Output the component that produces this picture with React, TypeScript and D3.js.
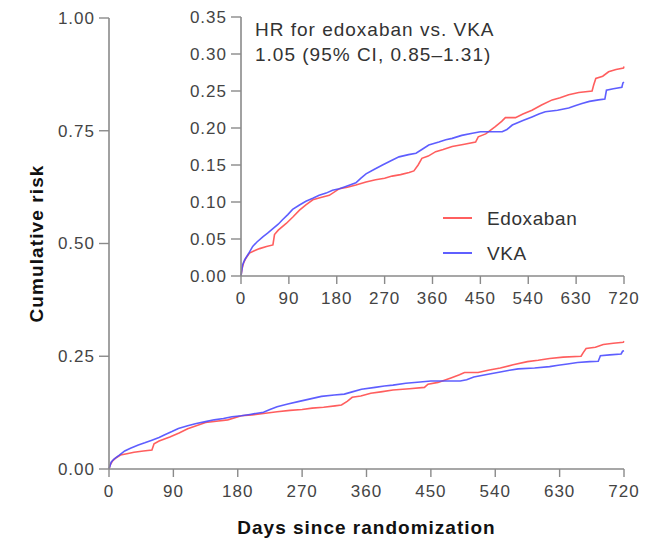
import React from 'react';
import * as d3 from 'd3';

// Kaplan-Meier style cumulative risk
const edoxabanDays = [0, 2, 5, 10, 16, 25, 35, 48, 60, 63, 70, 85, 98, 110, 122, 135, 150, 166, 185, 200, 216, 235, 253, 270, 284, 300, 316, 325, 333, 340, 352, 366, 380, 397, 420, 441, 446, 460, 478, 490, 497, 516, 530, 547, 565, 585, 600, 616, 635, 660, 663, 667, 680, 691, 705, 719, 720];
const edoxabanRisk = [0, 0.01, 0.018, 0.025, 0.031, 0.034, 0.037, 0.04, 0.042, 0.056, 0.062, 0.071, 0.08, 0.089, 0.096, 0.103, 0.106, 0.109, 0.118, 0.12, 0.123, 0.127, 0.13, 0.132, 0.135, 0.137, 0.14, 0.142, 0.15, 0.159, 0.162, 0.168, 0.171, 0.175, 0.178, 0.181, 0.188, 0.192, 0.202, 0.209, 0.214, 0.214, 0.219, 0.224, 0.231, 0.238, 0.241, 0.245, 0.248, 0.25, 0.258, 0.267, 0.27, 0.276, 0.279, 0.281, 0.283];

const vkaDays = [0, 3, 7, 14, 22, 30, 41, 50, 60, 70, 78, 88, 97, 110, 122, 135, 147, 160, 172, 185, 197, 216, 225, 235, 250, 266, 280, 297, 315, 329, 340, 353, 372, 385, 397, 415, 435, 450, 491, 500, 510, 530, 547, 560, 572, 595, 616, 628, 641, 655, 672, 684, 687, 700, 716, 718, 720];
const vkaRisk = [0, 0.015, 0.022, 0.03, 0.04, 0.046, 0.053, 0.058, 0.064, 0.07, 0.076, 0.083, 0.09, 0.096, 0.101, 0.105, 0.109, 0.112, 0.116, 0.118, 0.121, 0.126, 0.132, 0.138, 0.144, 0.15, 0.155, 0.161, 0.164, 0.166, 0.171, 0.177, 0.181, 0.184, 0.186, 0.19, 0.193, 0.195, 0.195, 0.198, 0.204, 0.21, 0.215, 0.219, 0.222, 0.224, 0.227, 0.23, 0.233, 0.236, 0.238, 0.239, 0.251, 0.253, 0.255, 0.261, 0.262];

const dayTicks = [0, 90, 180, 270, 360, 450, 540, 630, 720];
const mainRiskTicks = [0, 0.25, 0.5, 0.75, 1];
const insetRiskTicks = [0, 0.05, 0.1, 0.15, 0.2, 0.25, 0.3, 0.35];

const seriesNames = ['Edoxaban', 'VKA'];
const seriesColors = ['#ff4d4d', '#4d4dff'];
const hrLines = ['HR for edoxaban vs. VKA', '1.05 (95% CI, 0.85\u20131.31)'];

const W = 669;
const H = 538;
const FONT = '"Liberation Sans", Arial, sans-serif';
const AXIS = '#8a8a8a';
const LABEL = '#444';

type Pt = { day: number; risk: number };
const toPts = (days: number[], risk: number[]): Pt[] => days.map((d, i) => ({ day: d, risk: risk[i] }));
const series = [toPts(edoxabanDays, edoxabanRisk), toPts(vkaDays, vkaRisk)];

interface PanelProps {
  x: d3.ScaleLinear<number, number>;
  y: d3.ScaleLinear<number, number>;
  yTicks: number[];
}

const Panel: React.FC<PanelProps> = ({ x, y, yTicks }) => {
  const line = d3
    .line<Pt>()
    .x(d => x(d.day))
    .y(d => y(d.risk));
  const [x0, x1] = x.range();
  const [y0, y1] = y.range();
  return (
    <g>
      {series.map((s, i) => (
        <path key={i} d={line(s) ?? ''} fill="none" stroke={seriesColors[i]} strokeWidth={1.6} strokeOpacity={0.9} />
      ))}
      {/* y axis */}
      <line x1={x0} x2={x0} y1={y0} y2={y1} stroke={AXIS} strokeWidth={1.6} />
      {yTicks.map(t => (
        <g key={t} transform={`translate(${x0},${y(t)})`}>
          <line x1={-10} x2={0} stroke={AXIS} strokeWidth={1.4} />
          <text x={-14} dy="0.35em" textAnchor="end" fontSize={17} fill={LABEL} letterSpacing={1}>
            {t.toFixed(2)}
          </text>
        </g>
      ))}
      {/* x axis */}
      <line x1={x0} x2={x1} y1={y0} y2={y0} stroke={AXIS} strokeWidth={1.6} />
      {dayTicks.map(t => (
        <g key={t} transform={`translate(${x(t)},${y0})`}>
          <line y1={0} y2={8} stroke={AXIS} strokeWidth={1.4} />
          <text y={28} textAnchor="middle" fontSize={17} fill={LABEL} letterSpacing={1}>
            {t}
          </text>
        </g>
      ))}
    </g>
  );
};

export default function App() {
  const xMain = d3.scaleLinear().domain([0, 720]).range([109, 624]);
  const yMain = d3.scaleLinear().domain([0, 1]).range([469, 18]);
  const xInset = d3.scaleLinear().domain([0, 720]).range([241, 624]);
  const yInset = d3.scaleLinear().domain([0, 0.35]).range([276, 17]);

  return (
    <svg width={W} height={H} style={{ position: 'absolute', left: 0, top: 0, background: '#fff' }} fontFamily={FONT}>
      <Panel x={xMain} y={yMain} yTicks={mainRiskTicks} />
      <Panel x={xInset} y={yInset} yTicks={insetRiskTicks} />

      {hrLines.map((t, i) => (
        <text key={i} x={255} y={36 + i * 25} fontSize={19} fill="#333" letterSpacing={1}>
          {t}
        </text>
      ))}

      {seriesNames.map((n, i) => (
        <g key={n} transform={`translate(443,${218 + i * 35})`}>
          <line x1={0} x2={29} stroke={seriesColors[i]} strokeWidth={1.8} />
          <text x={44} dy="0.35em" fontSize={19} fill="#333" letterSpacing={0.6}>
            {n}
          </text>
        </g>
      ))}

      <text
        transform={`translate(43,${(yMain(0) + yMain(1)) / 2}) rotate(-90)`}
        textAnchor="middle"
        fontSize={19}
        fontWeight="bold"
        fill="#111"
        letterSpacing={1.1}
      >
        Cumulative risk
      </text>
      <text
        x={(xMain(0) + xMain(720)) / 2}
        y={534}
        textAnchor="middle"
        fontSize={19}
        fontWeight="bold"
        fill="#111"
        letterSpacing={1}
      >
        Days since randomization
      </text>
    </svg>
  );
}
